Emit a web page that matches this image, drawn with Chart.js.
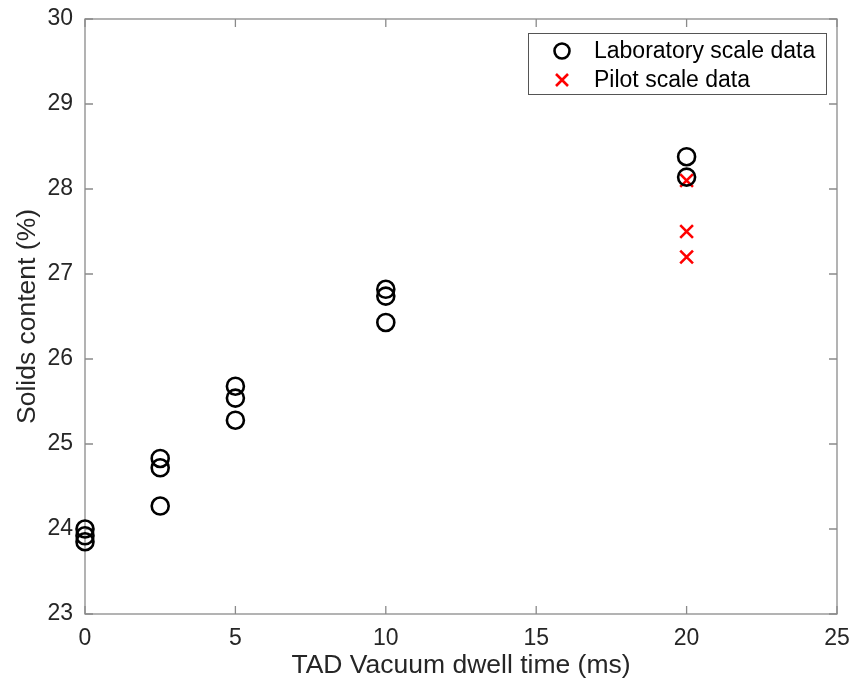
<!DOCTYPE html>
<html><head><meta charset="utf-8">
<script src="https://cdn.jsdelivr.net/npm/chart.js@4/dist/chart.umd.min.js"></script>
<style>html,body{margin:0;padding:0;background:#fff}#wrap{width:857px;height:685px}</style>
</head><body><div id="wrap"><canvas id="c" width="857" height="685"></canvas></div>
<script>
const labX = [0,0,0,2.5,2.5,2.5,5,5,5,10,10,10,20,20];
const labY = [24.0,23.92,23.85,24.83,24.72,24.27,25.68,25.54,25.28,26.82,26.74,26.43,28.38,28.14];
const pilotX = [20,20,20];
const pilotY = [28.1,27.5,27.2];
const seriesNames = ['Laboratory scale data','Pilot scale data'];
const xTitle = 'TAD Vacuum dwell time (ms)';
const yTitle = 'Solids content (%)';

const FONT = '"Liberation Sans", Arial, sans-serif';
const AX = '#8a8a8a';
const TXT = '#262626';

const boxTicks = {
  id:'boxTicks',
  beforeDatasetsDraw(chart){
    const {ctx, chartArea:a, scales:{x,y}} = chart;
    ctx.save();
    ctx.strokeStyle = AX; ctx.lineWidth = 1.3;
    ctx.strokeRect(a.left, a.top, a.right-a.left, a.bottom-a.top);
    ctx.beginPath();
    const L = 8;
    x.ticks.forEach(t=>{const p=x.getPixelForValue(t.value);
      ctx.moveTo(p,a.bottom);ctx.lineTo(p,a.bottom-L);
      ctx.moveTo(p,a.top);ctx.lineTo(p,a.top+L);});
    y.ticks.forEach(t=>{const p=y.getPixelForValue(t.value);
      ctx.moveTo(a.left,p);ctx.lineTo(a.left+L,p);
      ctx.moveTo(a.right,p);ctx.lineTo(a.right-L,p);});
    ctx.stroke();
    ctx.restore();
  },
  afterDraw(chart){
    const ctx = chart.ctx;
    ctx.save();
    const bx=528, by=33, bw=298, bh=61;
    ctx.fillStyle='#fff'; ctx.fillRect(bx,by,bw,bh);
    ctx.strokeStyle='#555'; ctx.lineWidth=1; ctx.strokeRect(bx+0.5,by+0.5,bw,bh);
    ctx.font = '23px '+FONT; ctx.fillStyle = '#000'; ctx.textBaseline='middle'; ctx.textAlign='left';
    const rows=[51, 80];
    ctx.beginPath(); ctx.strokeStyle='#000'; ctx.lineWidth=2.6;
    ctx.arc(562, rows[0], 7.5, 0, Math.PI*2); ctx.stroke();
    ctx.beginPath(); ctx.strokeStyle='#ff0000'; ctx.lineWidth=2.6;
    ctx.moveTo(556,rows[1]-6);ctx.lineTo(568,rows[1]+6);
    ctx.moveTo(568,rows[1]-6);ctx.lineTo(556,rows[1]+6);ctx.stroke();
    ctx.fillText(seriesNames[0], 594, rows[0]+1);
    ctx.fillText(seriesNames[1], 594, rows[1]+1);
    ctx.restore();
  }
};

new Chart(document.getElementById('c'), {
  type:'scatter',
  data:{datasets:[
    {label:seriesNames[0], data:labX.map((v,i)=>({x:v,y:labY[i]})), pointStyle:'circle', pointRadius:8.5, clip:false,
     pointBorderWidth:2.6, pointBorderColor:'#000', pointBackgroundColor:'rgba(0,0,0,0)', pointHoverRadius:8.5},
    {label:seriesNames[1], data:pilotX.map((v,i)=>({x:v,y:pilotY[i]})), pointStyle:'crossRot', pointRadius:9, clip:false,
     pointBorderWidth:2.6, pointBorderColor:'#ff0000', pointBackgroundColor:'#ff0000', pointHoverRadius:9}
  ]},
  options:{
    responsive:false, animation:false, events:[],
    layout:{padding:{top:19,right:20,left:0,bottom:0}},
    plugins:{legend:{display:false}, tooltip:{enabled:false}},
    scales:{
      x:{type:'linear', min:0, max:25, ticks:{stepSize:5, color:TXT, font:{family:FONT,size:23}, padding:11, maxRotation:0},
         grid:{display:false, drawTicks:false}, border:{display:false},
         title:{display:true, text:xTitle, color:TXT, font:{family:FONT,size:26.5}, padding:{top:3,bottom:3}},
         afterFit(s){s.height=71; s.paddingLeft=0; s.paddingRight=0;}},
      y:{min:23, max:30, ticks:{stepSize:1, color:TXT, font:{family:FONT,size:23}, padding:12},
         grid:{display:false, drawTicks:false}, border:{display:false},
         title:{display:true, text:yTitle, color:TXT, font:{family:FONT,size:26.5}, padding:{top:12,bottom:12}},
         afterFit(s){s.width=85; s.paddingTop=0; s.paddingBottom=0;}}
    }
  },
  plugins:[boxTicks]
});
</script></body></html>
